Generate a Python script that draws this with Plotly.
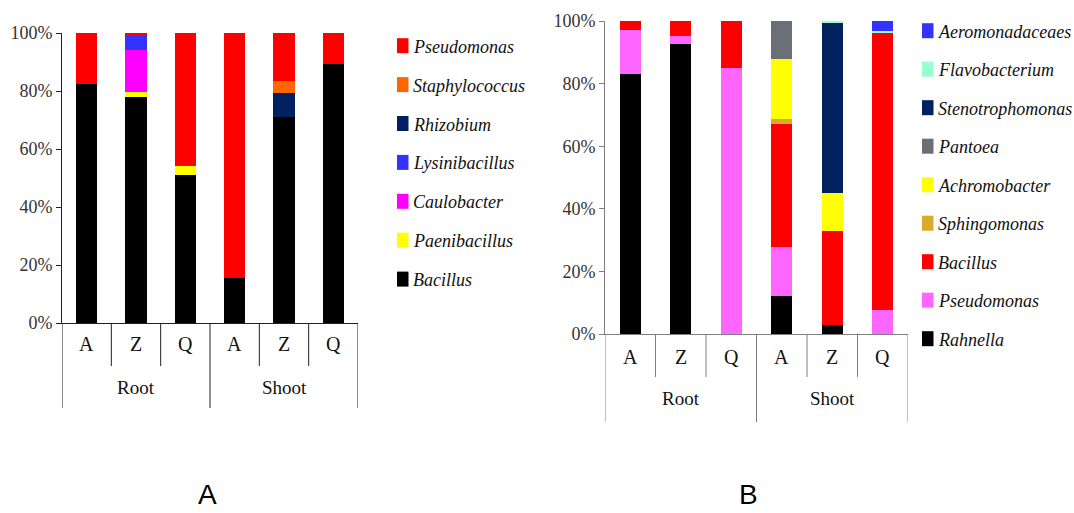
import plotly.graph_objects as go

W, H = 1074, 513

# ---------------- data ----------------
tissues = ["Root", "Shoot"]
sites = ["A", "Z", "Q"]

# Panel A (bottom -> top stacking order)
a_names = ["Bacillus", "Paenibacillus", "Caulobacter", "Lysinibacillus",
           "Rhizobium", "Staphylococcus", "Pseudomonas"]
a_colors = ["#000000", "#FFFF00", "#FF00FF", "#3333FF", "#002060", "#FF6600", "#FF0000"]
a_bacillus = [82.3, 78.1, 51.1, 15.4, 71.0, 89.2]
a_paenibacillus = [0, 1.7, 3.2, 0, 0, 0]
a_caulobacter = [0, 14.5, 0, 0, 0, 0]
a_lysinibacillus = [0, 5.3, 0, 0, 0, 0]
a_rhizobium = [0, 0, 0, 0, 8.3, 0]
a_staphylococcus = [0, 0, 0, 0, 4.1, 0]
a_pseudomonas = [17.7, 0.4, 45.7, 84.6, 16.6, 10.8]
a_values = [a_bacillus, a_paenibacillus, a_caulobacter, a_lysinibacillus,
            a_rhizobium, a_staphylococcus, a_pseudomonas]

# Panel B (bottom -> top stacking order)
b_names = ["Rahnella", "Pseudomonas", "Bacillus", "Sphingomonas", "Achromobacter",
           "Pantoea", "Stenotrophomonas", "Flavobacterium", "Aeromonadaceaes"]
b_colors = ["#000000", "#FF66FF", "#FF0000", "#DAAA2A", "#FFFF00",
            "#6B6F76", "#002060", "#99FFCC", "#3333FF"]
b_rahnella = [83.0, 92.7, 0, 12.1, 2.9, 0]
b_pseudomonas = [14.1, 2.5, 85.1, 15.6, 0, 7.7]
b_bacillus = [2.9, 4.8, 14.9, 39.4, 30.1, 88.6]
b_sphingomonas = [0, 0, 0, 1.5, 0, 0]
b_achromobacter = [0, 0, 0, 19.3, 12.1, 0]
b_pantoea = [0, 0, 0, 12.1, 0, 0]
b_stenotrophomonas = [0, 0, 0, 0, 54.3, 0]
b_flavobacterium = [0, 0, 0, 0, 0.6, 0.5]
b_aeromonadaceaes = [0, 0, 0, 0, 0, 3.2]
b_values = [b_rahnella, b_pseudomonas, b_bacillus, b_sphingomonas, b_achromobacter,
            b_pantoea, b_stenotrophomonas, b_flavobacterium, b_aeromonadaceaes]

y_ticks = [0, 20, 40, 60, 80, 100]
y_tick_labels = ["0%", "20%", "40%", "60%", "80%", "100%"]
panel_labels = ["A", "B"]

# ---------------- helpers ----------------
def fx(px):
    return px / W

def fy(py):
    return 1 - py / H

SERIF = "Liberation Serif"
SANS = "Liberation Sans"

categories = [s for t in tissues for s in sites]
xpos = list(range(len(categories)))

fig = go.Figure()

for vals, name, col in zip(a_values, a_names, a_colors):
    fig.add_trace(go.Bar(x=xpos, y=vals, name=name, marker=dict(color=col, line=dict(width=0)),
                         width=0.43, xaxis="x", yaxis="y", showlegend=False))
for vals, name, col in zip(b_values, b_names, b_colors):
    fig.add_trace(go.Bar(x=xpos, y=vals, name=name, marker=dict(color=col, line=dict(width=0)),
                         width=0.41, xaxis="x2", yaxis="y2", showlegend=False))

panels = [
    dict(x=(62, 358), y0=323, y1=33, short=366, long=408, cat=344, grp=387,
         axcol="#202020", xref="x", yref="y", lab_x=207, leg_sq=397, leg_txt=411,
         leg_y0=45.7, leg_dy=38.9, names=a_names, colors=a_colors),
    dict(x=(605, 908), y0=334, y1=21, short=377, long=422, cat=357, grp=398,
         axcol="#7F7F7F", xref="x2", yref="y2", lab_x=748, leg_sq=922, leg_txt=936,
         leg_y0=30.7, leg_dy=38.5, names=b_names, colors=b_colors),
]

layout_axes = {}
shapes = []
annotations = []
for i, p in enumerate(panels):
    xa = "xaxis" if i == 0 else "xaxis2"
    ya = "yaxis" if i == 0 else "yaxis2"
    layout_axes[xa] = dict(domain=[fx(p["x"][0]), fx(p["x"][1])], range=[-0.5, len(categories) - 0.5],
                           showline=True, linecolor=p["axcol"], linewidth=1, showticklabels=False,
                           ticks="", showgrid=False, zeroline=False, anchor=p["yref"], fixedrange=True,
                           automargin=False)
    layout_axes[ya] = dict(domain=[fy(p["y0"]), fy(p["y1"])], range=[0, 100], tickmode="array",
                           tickvals=y_ticks, ticktext=y_tick_labels,
                           showline=True, linecolor=p["axcol"], linewidth=1,
                           ticks="outside", ticklen=5, tickcolor=p["axcol"], showgrid=False,
                           zeroline=False, anchor=p["xref"], automargin=False,
                           tickfont=dict(family=SERIF, size=18, color="#333333"))
    base = fy(p["y0"])
    for k in range(len(categories) + 1):
        b = k - 0.5
        is_long = (k % len(sites) == 0)
        bottom = fy(p["long"] if is_long else p["short"])
        shapes.append(dict(type="line", xref=p["xref"], yref="paper", x0=b, x1=b, y0=base, y1=bottom,
                           line=dict(color=p["axcol"], width=1)))
    for xp, c in zip(xpos, categories):
        annotations.append(dict(x=xp, y=fy(p["cat"]), xref=p["xref"], yref="paper", text=c,
                                showarrow=False, xanchor="center", yanchor="middle",
                                font=dict(family=SERIF, size=20, color="#111111")))
    for gi, t in enumerate(tissues):
        annotations.append(dict(x=gi * len(sites) + (len(sites) - 1) / 2, y=fy(p["grp"]),
                                xref=p["xref"], yref="paper", text=t, showarrow=False,
                                xanchor="center", yanchor="middle",
                                font=dict(family=SERIF, size=19, color="#111111")))
    annotations.append(dict(x=fx(p["lab_x"]), y=fy(512), xref="paper", yref="paper",
                            text=panel_labels[i], showarrow=False, xanchor="center", yanchor="bottom",
                            font=dict(family=SANS, size=28, color="#000000")))
    for j, (nm, col) in enumerate(zip(reversed(p["names"]), reversed(p["colors"]))):
        cy = p["leg_y0"] + j * p["leg_dy"]
        shapes.append(dict(type="rect", xref="paper", yref="paper",
                           x0=fx(p["leg_sq"]), x1=fx(p["leg_sq"] + 11.5),
                           y0=fy(cy + 7.5), y1=fy(cy - 7.5),
                           fillcolor=col, line=dict(width=0)))
        annotations.append(dict(x=fx(p["leg_txt"]), y=fy(cy + 1), xref="paper", yref="paper",
                                text="<i>" + nm + "</i>", showarrow=False, xanchor="left",
                                yanchor="middle", font=dict(family=SERIF, size=18, color="#111111")))

fig.update_layout(
    width=W, height=H, autosize=False,
    margin=dict(l=0, r=0, t=0, b=0, pad=0, autoexpand=False),
    paper_bgcolor="white", plot_bgcolor="white",
    barmode="stack", bargap=0,
    shapes=shapes, annotations=annotations,
    showlegend=False,
    **layout_axes,
)

fig.write_html("out.html", config=dict(displayModeBar=False))
